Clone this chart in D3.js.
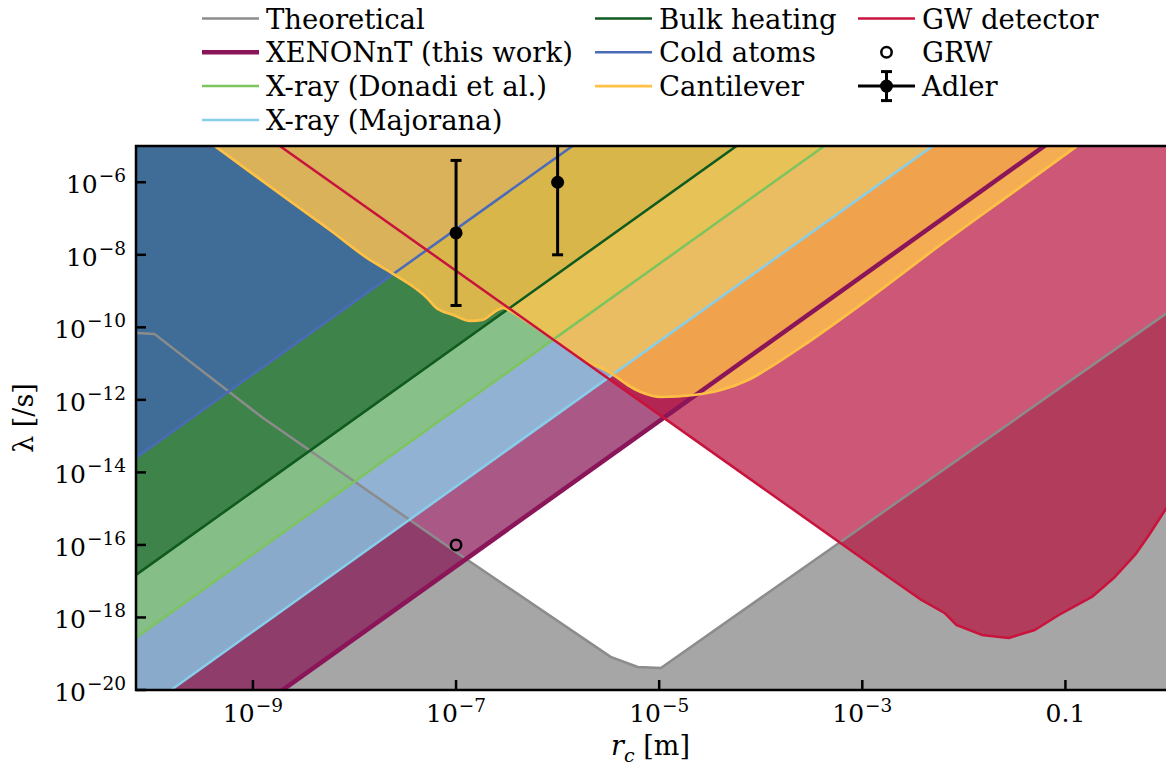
<!DOCTYPE html>
<html>
<head>
<meta charset="utf-8">
<script src="https://cdn.jsdelivr.net/npm/d3@7"></script>
<style>
  body { margin: 0; background: #fff; }
  text { font-family: "DejaVu Serif", serif; fill: #000; }
</style>
</head>
<body>
<svg id="chart" width="1166" height="771"></svg>
<script>
// bounds as [r_c in m, lambda in 1/s]
const theoretical = [[7e-11, 7.0e-11], [1.07e-10, 6.6e-11], [1.25e-9, 3.2e-13], [1.03e-7, 6.0e-17],
    [3.33e-6, 8.2e-20], [6.15e-6, 4.3e-20], [1.04e-5, 4.05e-20], [1, 2.5e-10]];
const xenonnt = [[1e-11, 2.6e-25], [1, 2.6e-3]];
const xrayDonadi = [[1e-11, 5.6e-21], [1, 56]];
const xrayMajorana = [[1e-11, 4.1e-23], [1, 0.41]];
const bulkHeating = [[1e-11, 3.0e-19], [1, 3.0e3]];
const coldAtoms = [[1e-11, 5.1e-16], [1, 5.1e6]];
const cantilever = [[4.2e-10, 1e-5], [2.31e-9, 3.05e-7], [5.73e-9, 4.83e-8], [1.42e-8, 7.2e-9],
    [2.51e-8, 2.77e-9], [5.2e-8, 6.4e-10], [6.24e-8, 3.64e-10], [9.4e-8, 2.19e-10], [1.38e-7, 1.5e-10],
    [1.82e-7, 1.6e-10], [2.18e-7, 2.19e-10], [2.55e-7, 3.0e-10], [2.92e-7, 3.41e-10], [3.43e-7, 2.82e-10],
    [5.05e-7, 1.41e-10], [8.5e-7, 5.4e-11], [1.7e-6, 1.4e-11], [3.33e-6, 5.5e-12], [4.9e-6, 2.57e-12],
    [6.6e-6, 1.65e-12], [1.04e-5, 1.2e-12], [2.19e-5, 1.36e-12], [4.06e-5, 1.87e-12], [7.5e-5, 3.53e-12],
    [1.35e-4, 9.2e-12], [2.5e-4, 2.87e-11], [1.2e-3, 6.6e-10], [6.0e-3, 1.95e-8], [0.03, 5.1e-7], [0.13, 1e-5]];
const gwDetector = [[1.84e-9, 1e-5], [1.54e-3, 1.8e-17], [3.82e-3, 3.04e-18], [6.44e-3, 1.33e-18],
    [8.47e-3, 6.2e-19], [0.015, 3.3e-19], [0.0276, 2.72e-19], [0.0499, 4.53e-19], [0.0861, 1.17e-18],
    [0.182, 3.68e-18], [0.307, 1.31e-17], [0.484, 5.3e-17], [0.665, 1.88e-16], [1.0, 1.11e-15]];
const grw = [[1e-7, 1e-16]];
const adler = [[1e-7, 4e-8, 4e-10, 4e-6], [1e-6, 1e-6, 1e-8, 1e-4]]; // r, lambda, low, high

const xTicks = [1e-9, 1e-7, 1e-5, 1e-3, 0.1];
const xTickLabels = ['10^−9', '10^−7', '10^−5', '10^−3', '0.1'];
const yTicks = [1e-20, 1e-18, 1e-16, 1e-14, 1e-12, 1e-10, 1e-8, 1e-6];
const yTickLabels = ['10^−20', '10^−18', '10^−16', '10^−14', '10^−12', '10^−10', '10^−8', '10^−6'];

const svg = d3.select('#chart');
const pLeft = 136, pTop = 146, pBottom = 690, pRight = 1167;

const x = d3.scaleLog().domain([7.06e-11, 1]).range([pLeft, pRight]);
const y = d3.scaleLog().domain([1e-20, 1e-5]).range([pBottom, pTop]);

svg.append('defs').append('clipPath').attr('id', 'plot')
    .append('rect').attr('x', pLeft).attr('y', pTop).attr('width', pRight - pLeft).attr('height', pBottom - pTop);

const plot = svg.append('g').attr('clip-path', 'url(#plot)');

const above = d3.area().x(d => x(d[0])).y0(pTop - 5).y1(d => y(d[1]));
const below = d3.area().x(d => x(d[0])).y0(pBottom + 5).y1(d => y(d[1]));
const line = d3.line().x(d => x(d[0])).y(d => y(d[1]));
const smooth = d3.line().x(d => x(d[0])).y(d => y(d[1])).curve(d3.curveMonotoneX);
const aboveSmooth = d3.area().x(d => x(d[0])).y0(pTop - 5).y1(d => y(d[1])).curve(d3.curveMonotoneX);

// excluded regions, bottom to top
const fills = [
    { data: theoretical, gen: below, color: '#808080', alpha: 0.7 },
    { data: xenonnt, gen: above, color: '#861354', alpha: 0.7 },
    { data: gwDetector, gen: above, color: '#b7103d', alpha: 0.7 },
    { data: xrayMajorana, gen: above, color: '#88d8f5', alpha: 0.7 },
    { data: xrayDonadi, gen: above, color: '#84c66a', alpha: 0.7 },
    { data: bulkHeating, gen: above, color: '#1f6a2f', alpha: 0.7 },
    { data: coldAtoms, gen: above, color: '#4164b9', alpha: 0.7 },
    { data: cantilever, gen: aboveSmooth, color: '#ffc34b', alpha: 0.8 }
];
fills.forEach(f => {
    plot.append('path').attr('d', f.gen(f.data))
        .attr('fill', f.color).attr('fill-opacity', f.alpha).attr('stroke', 'none');
});

const series = [
    { name: 'Theoretical', data: theoretical, color: '#8c8c8c', width: 2.5 },
    { name: 'XENONnT (this work)', data: xenonnt, color: '#8a1558', width: 4.5 },
    { name: 'X-ray (Donadi et al.)', data: xrayDonadi, color: '#7cc45e', width: 2.5 },
    { name: 'X-ray (Majorana)', data: xrayMajorana, color: '#87ceeb', width: 2.5 },
    { name: 'Bulk heating', data: bulkHeating, color: '#0f5a1e', width: 2.5 },
    { name: 'Cold atoms', data: coldAtoms, color: '#4a6cb8', width: 2.5 },
    { name: 'Cantilever', data: cantilever, color: '#ffc145', width: 2.7, smooth: true },
    { name: 'GW detector', data: gwDetector, color: '#c8143c', width: 2.5 }
];
series.forEach(s => {
    plot.append('path').attr('d', (s.smooth ? smooth : line)(s.data))
        .attr('fill', 'none').attr('stroke', s.color).attr('stroke-width', s.width)
        .attr('stroke-linejoin', 'round');
});

// GRW point
plot.selectAll('.grw').data(grw).enter().append('circle')
    .attr('cx', d => x(d[0])).attr('cy', d => y(d[1])).attr('r', 5.2)
    .attr('fill', 'none').attr('stroke', '#000').attr('stroke-width', 2.5);

// Adler error bars
const eb = plot.selectAll('.adler').data(adler).enter().append('g');
eb.append('line').attr('x1', d => x(d[0])).attr('x2', d => x(d[0]))
    .attr('y1', d => y(d[2])).attr('y2', d => y(d[3])).attr('stroke', '#000').attr('stroke-width', 3);
[2, 3].forEach(k => {
    eb.append('line').attr('x1', d => x(d[0]) - 5.5).attr('x2', d => x(d[0]) + 5.5)
        .attr('y1', d => y(d[k])).attr('y2', d => y(d[k])).attr('stroke', '#000').attr('stroke-width', 3);
});
eb.append('circle').attr('cx', d => x(d[0])).attr('cy', d => y(d[1])).attr('r', 6.5).attr('fill', '#000');

// frame and ticks
const axes = svg.append('g').attr('stroke', '#000').attr('stroke-width', 2.5).attr('fill', 'none');
axes.append('path').attr('d', `M${pRight},${pTop}H${pLeft}V${pBottom}H${pRight}`).attr('stroke-linecap', 'square');
axes.selectAll('.xt').data(xTicks).enter().append('line')
    .attr('x1', d => x(d)).attr('x2', d => x(d)).attr('y1', pBottom).attr('y2', pBottom - 10);
axes.selectAll('.yt').data(yTicks).enter().append('line')
    .attr('y1', d => y(d)).attr('y2', d => y(d)).attr('x1', pLeft).attr('x2', pLeft + 10);

function mathLabel(sel, label, sup, raise) {
    const parts = label.split('^');
    sel.append('tspan').text(parts[0]);
    if (parts[1]) sel.append('tspan').attr('dx', 1).attr('dy', -raise).attr('font-size', sup).text(parts[1]);
}

xTicks.forEach((t, i) => {
    const tx = svg.append('text').attr('x', x(t)).attr('y', 722).attr('text-anchor', 'middle')
        .attr('font-size', 25);
    mathLabel(tx, xTickLabels[i], 18.5, 10.5);
});
yTicks.forEach((t, i) => {
    const tx = svg.append('text').attr('x', 126).attr('y', y(t) + 10.7).attr('text-anchor', 'end')
        .attr('font-size', 25);
    mathLabel(tx, yTickLabels[i], 18.5, 11);
});

// axis labels
const xl = svg.append('text').attr('x', (pLeft + 1165) / 2).attr('y', 755).attr('text-anchor', 'middle')
    .attr('font-size', 27);
xl.append('tspan').attr('font-style', 'italic').text('r');
xl.append('tspan').attr('font-style', 'italic').attr('font-size', 19).attr('dy', 7).text('c');
xl.append('tspan').attr('dy', -7).text(' [m]');

svg.append('text').attr('transform', `translate(33,${(pTop + pBottom) / 2}) rotate(-90)`)
    .attr('text-anchor', 'middle').attr('font-size', 27).text('λ [/s]');

// legend, three columns filled top to bottom
const legendItems = series.map(s => ({ name: s.name, color: s.color, width: s.width, kind: 'line' }))
    .concat([{ name: 'GRW', kind: 'grw' }, { name: 'Adler', kind: 'adler' }]);
const colStart = [202, 595, 858];
const colSize = [4, 3, 3];
const legend = svg.append('g');
let idx = 0;
colSize.forEach((n, c) => {
    for (let r = 0; r < n; r++, idx++) {
        const it = legendItems[idx];
        const base = 28.5 + r * 33.8;
        const hy = base - 10;
        const x0 = colStart[c], x1 = x0 + 57, xm = x0 + 28.5;
        if (it.kind === 'line') {
            legend.append('line').attr('x1', x0).attr('x2', x1).attr('y1', hy).attr('y2', hy)
                .attr('stroke', it.color).attr('stroke-width', it.width);
        } else if (it.kind === 'grw') {
            legend.append('circle').attr('cx', xm).attr('cy', hy).attr('r', 5.2)
                .attr('fill', 'none').attr('stroke', '#000').attr('stroke-width', 2.5);
        } else {
            const g = legend.append('g').attr('stroke', '#000').attr('stroke-width', 3);
            g.append('line').attr('x1', x0).attr('x2', x1).attr('y1', hy).attr('y2', hy);
            g.append('line').attr('x1', xm).attr('x2', xm).attr('y1', hy - 14.5).attr('y2', hy + 14.5);
            g.append('line').attr('x1', xm - 5.5).attr('x2', xm + 5.5).attr('y1', hy - 14.5).attr('y2', hy - 14.5);
            g.append('line').attr('x1', xm - 5.5).attr('x2', xm + 5.5).attr('y1', hy + 14.5).attr('y2', hy + 14.5);
            legend.append('circle').attr('cx', xm).attr('cy', hy).attr('r', 6.5).attr('fill', '#000');
        }
        legend.append('text').attr('x', x1 + 7).attr('y', base).attr('font-size', 27.5).text(it.name);
    }
});
</script>
</body>
</html>
